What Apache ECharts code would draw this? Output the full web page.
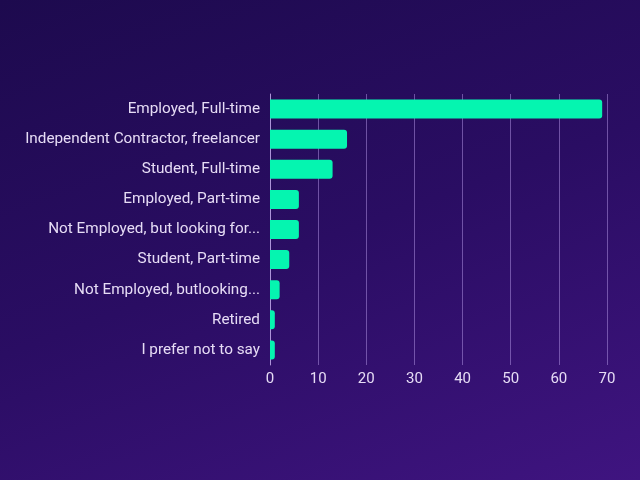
<!DOCTYPE html>
<html>
<head>
<meta charset="utf-8">
<script src="https://cdn.jsdelivr.net/npm/echarts@6/dist/echarts.min.js"></script>
<style>
  html, body { margin: 0; padding: 0; }
  #container {
    width: 640px; height: 480px;
    background: linear-gradient(160deg, #1d0a4e 0%, #2a0d63 50%, #3f1480 100%);
  }
</style>
</head>
<body>
<div id="container"></div>
<script>
var categories = [
    'Employed, Full-time',
    'Independent Contractor, freelancer',
    'Student, Full-time',
    'Employed, Part-time',
    'Not Employed, but looking for...',
    'Student, Part-time',
    'Not Employed, butlooking...',
    'Retired',
    'I prefer not to say'
];
var counts = [69, 16, 13, 6, 6, 4, 2, 1, 1];
var xTicks = [0, 10, 20, 30, 40, 50, 60, 70];

function graficoBarras(){
    var dom = document.getElementById("container");
    var myChart = echarts.init(dom);
    var option;
    option = {
        backgroundColor: 'transparent',
        textStyle: { fontFamily: 'Roboto' },
        grid: { left: 270, right: 33, top: 94, bottom: 115 },
        xAxis: {
            type: 'value',
            min: xTicks[0],
            max: xTicks[xTicks.length - 1],
            interval: 10,
            axisLine: { show: false },
            axisTick: { show: false },
            axisLabel: { color: '#e6dcf5', fontSize: 15, margin: 7 },
            splitLine: { lineStyle: { color: 'rgba(170,140,220,0.55)', width: 1 } }
        },
        yAxis: {
            type: 'category',
            inverse: true,
            data: categories,
            axisLine: { show: true, lineStyle: { color: 'rgba(190,165,230,0.8)' } },
            axisTick: { show: false },
            axisLabel: { color: '#e6dcf5', fontSize: 15.3, margin: 10 }
        },
        series: [{
            type: 'bar',
            data: counts,
            barWidth: 19,
            itemStyle: { color: '#05f5b0', borderRadius: [0, 3, 3, 0] }
        }]
    };
    if (option && typeof option === 'object') {
        myChart.setOption(option);
    }
}
graficoBarras();
</script>
</body>
</html>
